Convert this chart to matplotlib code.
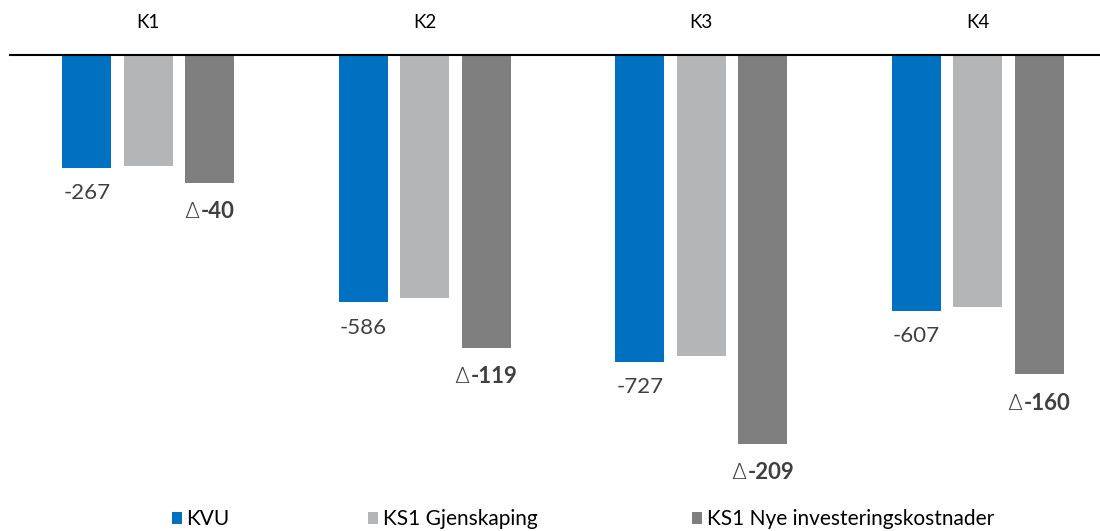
import matplotlib
matplotlib.use("Agg")
import matplotlib.pyplot as plt
import numpy as np
from matplotlib.patches import Patch
from matplotlib.offsetbox import TextArea, HPacker, AnnotationBbox

categories = ["K1", "K2", "K3", "K4"]
kvu = [-267, -586, -727, -607]
ks1_gjenskaping = [-263, -576, -713, -597]
delta_nye = [-40, -119, -209, -160]
ks1_nye = [g + d for g, d in zip(ks1_gjenskaping, delta_nye)]

series_names = ["KVU", "KS1 Gjenskaping", "KS1 Nye investeringskostnader"]
colors = ["#0070C0", "#B4B5B7", "#7F7F7F"]
text_color = "#404040"

plt.rcParams["font.family"] = ["Lato", "DejaVu Sans"]

fig = plt.figure(figsize=(11, 5.31), dpi=100)
ax = fig.add_axes([10 / 1100, 1 - 480 / 531, 1106 / 1100, 425 / 531])

x = np.arange(len(categories))
step = 0.222
width = 0.177
series = [kvu, ks1_gjenskaping, ks1_nye]
for i, (vals, c) in enumerate(zip(series, colors)):
    ax.bar(x + (i - 1) * step, vals, width=width, color=c, edgecolor="none")

ax.set_xlim(-0.5, 3.5)
ax.set_ylim(-1007, 0)
ax.axhline(0, color="black", lw=1.5, clip_on=False)
for s in ax.spines.values():
    s.set_visible(False)
ax.set_xticks([])
ax.set_yticks([])

for xi, name in zip(x, categories):
    ax.annotate(name, (xi, 0), xytext=(0, 17), textcoords="offset points",
                ha="center", va="bottom", fontsize=13.5, color="black")

for xi, v in zip(x, kvu):
    ax.annotate(f"{v}", (xi - step, v), xytext=(0, -11), textcoords="offset points",
                ha="center", va="top", fontsize=16, color=text_color)

# delta label: thin triangle followed by bold figures
for xi, v, d in zip(x, ks1_nye, delta_nye):
    tri = TextArea("\u0394", textprops=dict(fontsize=16, color=text_color,
                                             family="DejaVu Sans", fontweight="light"))
    num = TextArea(f"{d}", textprops=dict(fontsize=16, color=text_color, fontweight="bold"))
    box = HPacker(children=[tri, num], pad=0, sep=1, align="baseline")
    ab = AnnotationBbox(box, (xi + step, v), xybox=(0, -13), xycoords="data",
                        boxcoords="offset points", box_alignment=(0.5, 1.0),
                        frameon=False, pad=0)
    ax.add_artist(ab)

# legend entries placed individually along the bottom
legend_x = [172, 368, 692]
for name, c, lx in zip(series_names, colors, legend_x):
    fig.legend([Patch(facecolor=c, edgecolor="none")], [name], loc="center left",
               bbox_to_anchor=(lx / 1100, 1 - 519 / 531), frameon=False, fontsize=15,
               handlelength=0.5, handleheight=0.5, handletextpad=0.2,
               borderpad=0, borderaxespad=0, labelcolor="black")

fig.savefig("out.png", dpi=100)
